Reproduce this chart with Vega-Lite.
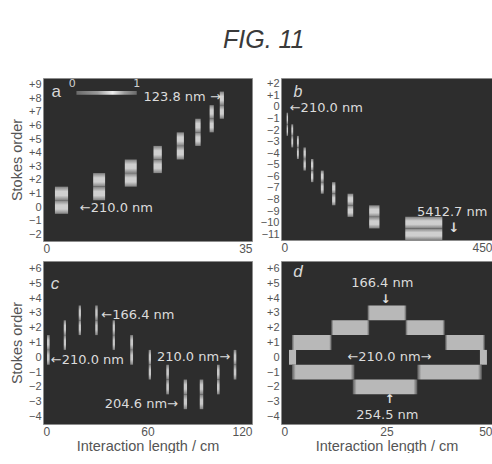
{
  "$schema": "https://vega.github.io/schema/vega-lite/v6.json",
  "background": "white",
  "padding": {"left": 8, "top": 28, "right": 0, "bottom": 0},
  "title": {"text": "FIG. 11", "font": "Liberation Sans", "fontSize": 25, "fontStyle": "italic", "fontWeight": "normal", "color": "#3a3a3a", "offset": 24, "dx": 13, "anchor": "middle"},
  "datasets": {
    "bars": [
      {"p": "a", "x1": 2.0, "x2": 4.2, "y1": -0.5, "y2": 0.5},
      {"p": "a", "x1": 2.0, "x2": 4.2, "y1": 0.5, "y2": 1.5},
      {"p": "a", "x1": 8.4, "x2": 10.4, "y1": 0.5, "y2": 1.5},
      {"p": "a", "x1": 8.4, "x2": 10.4, "y1": 1.5, "y2": 2.5},
      {"p": "a", "x1": 13.7, "x2": 15.7, "y1": 1.5, "y2": 2.5},
      {"p": "a", "x1": 13.7, "x2": 15.7, "y1": 2.5, "y2": 3.5},
      {"p": "a", "x1": 18.5, "x2": 19.9, "y1": 2.5, "y2": 3.5},
      {"p": "a", "x1": 18.5, "x2": 19.9, "y1": 3.5, "y2": 4.5},
      {"p": "a", "x1": 22.4, "x2": 23.6, "y1": 3.5, "y2": 4.5},
      {"p": "a", "x1": 22.4, "x2": 23.6, "y1": 4.5, "y2": 5.5},
      {"p": "a", "x1": 25.5, "x2": 26.4, "y1": 4.5, "y2": 5.5},
      {"p": "a", "x1": 25.5, "x2": 26.4, "y1": 5.5, "y2": 6.5},
      {"p": "a", "x1": 27.9, "x2": 28.6, "y1": 5.5, "y2": 6.5},
      {"p": "a", "x1": 27.9, "x2": 28.6, "y1": 6.5, "y2": 7.5},
      {"p": "a", "x1": 29.6, "x2": 30.3, "y1": 6.5, "y2": 7.5},
      {"p": "a", "x1": 29.6, "x2": 30.3, "y1": 7.5, "y2": 8.5},
      {"p": "b", "x1": 12, "x2": 15, "y1": -1.5, "y2": -0.5},
      {"p": "b", "x1": 12, "x2": 15, "y1": -2.5, "y2": -1.5},
      {"p": "b", "x1": 22, "x2": 26, "y1": -2.5, "y2": -1.5},
      {"p": "b", "x1": 22, "x2": 26, "y1": -3.5, "y2": -2.5},
      {"p": "b", "x1": 34, "x2": 38, "y1": -3.5, "y2": -2.5},
      {"p": "b", "x1": 34, "x2": 38, "y1": -4.5, "y2": -3.5},
      {"p": "b", "x1": 48, "x2": 53, "y1": -4.5, "y2": -3.5},
      {"p": "b", "x1": 48, "x2": 53, "y1": -5.5, "y2": -4.5},
      {"p": "b", "x1": 64, "x2": 69, "y1": -5.5, "y2": -4.5},
      {"p": "b", "x1": 64, "x2": 69, "y1": -6.5, "y2": -5.5},
      {"p": "b", "x1": 85, "x2": 91, "y1": -6.5, "y2": -5.5},
      {"p": "b", "x1": 85, "x2": 91, "y1": -7.5, "y2": -6.5},
      {"p": "b", "x1": 109, "x2": 116, "y1": -7.5, "y2": -6.5},
      {"p": "b", "x1": 109, "x2": 116, "y1": -8.5, "y2": -7.5},
      {"p": "b", "x1": 142, "x2": 154, "y1": -8.5, "y2": -7.5},
      {"p": "b", "x1": 142, "x2": 154, "y1": -9.5, "y2": -8.5},
      {"p": "b", "x1": 188, "x2": 210, "y1": -9.5, "y2": -8.5},
      {"p": "b", "x1": 188, "x2": 210, "y1": -10.5, "y2": -9.5},
      {"p": "b", "x1": 265, "x2": 344, "y1": -10.5, "y2": -9.5},
      {"p": "b", "x1": 265, "x2": 344, "y1": -11.5, "y2": -10.5},
      {"p": "c", "x1": 2.3, "x2": 3.8, "y1": -0.5, "y2": 0.5},
      {"p": "c", "x1": 2.3, "x2": 3.8, "y1": 0.5, "y2": 1.5},
      {"p": "c", "x1": 11.9, "x2": 13.2, "y1": 0.5, "y2": 1.5},
      {"p": "c", "x1": 11.9, "x2": 13.2, "y1": 1.5, "y2": 2.5},
      {"p": "c", "x1": 20.5, "x2": 21.8, "y1": 1.5, "y2": 2.5},
      {"p": "c", "x1": 20.5, "x2": 21.8, "y1": 2.5, "y2": 3.5},
      {"p": "c", "x1": 30.0, "x2": 31.4, "y1": 1.5, "y2": 2.5},
      {"p": "c", "x1": 30.0, "x2": 31.4, "y1": 2.5, "y2": 3.5},
      {"p": "c", "x1": 40.0, "x2": 41.3, "y1": 0.5, "y2": 1.5},
      {"p": "c", "x1": 40.0, "x2": 41.3, "y1": 1.5, "y2": 2.5},
      {"p": "c", "x1": 50.1, "x2": 51.7, "y1": -0.5, "y2": 0.5},
      {"p": "c", "x1": 50.1, "x2": 51.7, "y1": 0.5, "y2": 1.5},
      {"p": "c", "x1": 60.7, "x2": 62.0, "y1": -0.5, "y2": 0.5},
      {"p": "c", "x1": 60.7, "x2": 62.0, "y1": -1.5, "y2": -0.5},
      {"p": "c", "x1": 70.8, "x2": 72.3, "y1": -1.5, "y2": -0.5},
      {"p": "c", "x1": 70.8, "x2": 72.3, "y1": -2.5, "y2": -1.5},
      {"p": "c", "x1": 80.8, "x2": 82.7, "y1": -2.5, "y2": -1.5},
      {"p": "c", "x1": 80.8, "x2": 82.7, "y1": -3.5, "y2": -2.5},
      {"p": "c", "x1": 90.0, "x2": 92.0, "y1": -2.5, "y2": -1.5},
      {"p": "c", "x1": 90.0, "x2": 92.0, "y1": -3.5, "y2": -2.5},
      {"p": "c", "x1": 99.9, "x2": 101.4, "y1": -1.5, "y2": -0.5},
      {"p": "c", "x1": 99.9, "x2": 101.4, "y1": -2.5, "y2": -1.5},
      {"p": "c", "x1": 109.5, "x2": 111.0, "y1": -0.5, "y2": 0.5},
      {"p": "c", "x1": 109.5, "x2": 111.0, "y1": -1.5, "y2": -0.5}
    ],
    "hbars": [
      {"x1": 20.5, "x2": 29.7, "y1": 2.5, "y2": 3.5},
      {"x1": 11.9, "x2": 20.9, "y1": 1.5, "y2": 2.5},
      {"x1": 29.5, "x2": 38.8, "y1": 1.5, "y2": 2.5},
      {"x1": 2.6, "x2": 12.0, "y1": 0.5, "y2": 1.5},
      {"x1": 38.9, "x2": 48.3, "y1": 0.5, "y2": 1.5},
      {"x1": 1.9, "x2": 3.6, "y1": -0.5, "y2": 0.5},
      {"x1": 47.1, "x2": 48.8, "y1": -0.5, "y2": 0.5},
      {"x1": 2.6, "x2": 17.4, "y1": -1.5, "y2": -0.5},
      {"x1": 32.3, "x2": 47.6, "y1": -1.5, "y2": -0.5},
      {"x1": 17.0, "x2": 32.3, "y1": -2.5, "y2": -1.5}
    ],
    "cbar": [{"x1": 5.6, "x2": 15.7, "y1": 8.27, "y2": 8.55}],
    "small": [
      {"p": "a", "x1": 4.9, "y1": 9.05, "t": "0"},
      {"p": "a", "x1": 15.7, "y1": 9.05, "t": "1"},
      {"p": "b", "x1": 369, "y1": -10.45, "t": "↓"},
      {"p": "d", "x1": 24.8, "y1": 3.95, "t": "↓"},
      {"p": "d", "x1": 25.7, "y1": -2.8, "t": "↑"}
    ],
    "letters": [
      {"p": "a", "x1": 2.2, "y1": 8.5, "t": "a"},
      {"p": "b", "x1": 36, "y1": 1.3, "t": "b"},
      {"p": "c", "x1": 6.9, "y1": 4.95, "t": "c"},
      {"p": "d", "x1": 4.0, "y1": 5.75, "t": "d"}
    ],
    "notes": [
      {"p": "a", "x1": 12.3, "y1": -0.1, "t": "←210.0 nm"},
      {"p": "a", "x1": 23.3, "y1": 8.1, "t": "123.8 nm →"},
      {"p": "b", "x1": 96.6, "y1": -0.05, "t": "←210.0 nm"},
      {"p": "b", "x1": 365, "y1": -9.1, "t": "5412.7 nm"},
      {"p": "c", "x1": 54.5, "y1": 2.85, "t": "←166.4 nm"},
      {"p": "c", "x1": 25.5, "y1": -0.2, "t": "←210.0 nm"},
      {"p": "c", "x1": 86.4, "y1": 0.0, "t": "210.0 nm→"},
      {"p": "c", "x1": 56.5, "y1": -3.15, "t": "204.6 nm→"},
      {"p": "d", "x1": 24.0, "y1": 5.0, "t": "166.4 nm"},
      {"p": "d", "x1": 25.7, "y1": 0.0, "t": "←210.0 nm→"},
      {"p": "d", "x1": 25.2, "y1": -3.92, "t": "254.5 nm"}
    ]
  },
  "config": {
    "view": {"fill": "#2d2d2d", "stroke": "#8c8c8c", "strokeWidth": 1},
    "axis": {"domain": false, "ticks": false, "grid": false, "labelColor": "#555", "labelFont": "Liberation Sans", "labelFontSize": 12, "labelPadding": 2, "labelOverlap": false, "titleColor": "#555", "titleFont": "Liberation Sans", "titleFontSize": 14.5, "titleFontWeight": "normal"},
    "axisX": {"labelFlush": true, "titlePadding": 2},
    "axisY": {"titlePadding": 4, "labelFontSize": 11, "labelPadding": 2}
  },
  "columns": 2,
  "spacing": {"row": 5, "column": 6},
  "concat": [
    {
      "width": 209, "height": 163,
      "encoding": {
        "x": {"field": "x1", "type": "quantitative", "scale": {"domain": [0, 35], "nice": false, "zero": false}, "axis": {"values": [0, 35], "title": null}},
        "y": {"field": "y1", "type": "quantitative", "scale": {"domain": [-2.5, 9.5], "nice": false, "zero": false}, "axis": {"values": [-2, -1, 0, 1, 2, 3, 4, 5, 6, 7, 8, 9], "title": "Stokes order", "labelExpr": "datum.value > 0 ? '+' + datum.label : datum.label"}}
      },
      "layer": [
        {"data": {"name": "bars"}, "transform": [{"filter": "datum.p == 'a'"}],
         "mark": {"type": "rect", "fill": {"gradient": "linear", "x1": 0, "y1": 0, "x2": 0, "y2": 1, "stops": [{"offset": 0, "color": "#808080"}, {"offset": 0.35, "color": "#cfcfcf"}, {"offset": 0.65, "color": "#cfcfcf"}, {"offset": 1, "color": "#808080"}]}},
         "encoding": {"x2": {"field": "x2"}, "y2": {"field": "y2"}}},
        {"data": {"name": "cbar"},
         "mark": {"type": "rect", "fill": {"gradient": "linear", "stops": [{"offset": 0, "color": "#6a6a6a"}, {"offset": 0.35, "color": "#9a9a9a"}, {"offset": 0.6, "color": "#eeeeee"}, {"offset": 0.8, "color": "#9a9a9a"}, {"offset": 1, "color": "#6a6a6a"}]}},
         "encoding": {"x2": {"field": "x2"}, "y2": {"field": "y2"}}},
        {"data": {"name": "small"}, "transform": [{"filter": "datum.p == 'a'"}],
         "mark": {"type": "text", "font": "DejaVu Sans", "fontSize": 11, "color": "#d0d0d0", "baseline": "middle"},
         "encoding": {"text": {"field": "t"}}},
        {"data": {"name": "notes"}, "transform": [{"filter": "datum.p == 'a'"}],
         "mark": {"type": "text", "font": "DejaVu Sans", "fontSize": 13, "color": "#dcdcdc", "baseline": "middle"},
         "encoding": {"text": {"field": "t"}}},
        {"data": {"name": "letters"}, "transform": [{"filter": "datum.p == 'a'"}],
         "mark": {"type": "text", "font": "Liberation Sans", "fontSize": 17, "color": "#d8d8d8", "baseline": "middle"},
         "encoding": {"text": {"field": "t"}}}
      ]
    },
    {
      "width": 211, "height": 162,
      "encoding": {
        "x": {"field": "x1", "type": "quantitative", "scale": {"domain": [0, 450], "nice": false, "zero": false}, "axis": {"values": [0, 450], "title": null}},
        "y": {"field": "y1", "type": "quantitative", "scale": {"domain": [-11.5, 2.5], "nice": false, "zero": false}, "axis": {"values": [-11, -10, -9, -8, -7, -6, -5, -4, -3, -2, -1, 0, 1, 2], "title": null, "labelExpr": "datum.value > 0 ? '+' + datum.label : datum.label"}}
      },
      "layer": [
        {"data": {"name": "bars"}, "transform": [{"filter": "datum.p == 'b'"}],
         "mark": {"type": "rect", "fill": {"gradient": "linear", "x1": 0, "y1": 0, "x2": 0, "y2": 1, "stops": [{"offset": 0, "color": "#808080"}, {"offset": 0.35, "color": "#cfcfcf"}, {"offset": 0.65, "color": "#cfcfcf"}, {"offset": 1, "color": "#808080"}]}},
         "encoding": {"x2": {"field": "x2"}, "y2": {"field": "y2"}}},
        {"data": {"name": "small"}, "transform": [{"filter": "datum.p == 'b'"}],
         "mark": {"type": "text", "font": "DejaVu Sans", "fontSize": 13, "fontWeight": "bold", "color": "#e0e0e0", "baseline": "middle"},
         "encoding": {"text": {"field": "t"}}},
        {"data": {"name": "notes"}, "transform": [{"filter": "datum.p == 'b'"}],
         "mark": {"type": "text", "font": "DejaVu Sans", "fontSize": 13, "color": "#dcdcdc", "baseline": "middle"},
         "encoding": {"text": {"field": "t"}}},
        {"data": {"name": "letters"}, "transform": [{"filter": "datum.p == 'b'"}],
         "mark": {"type": "text", "font": "Liberation Sans", "fontSize": 16, "fontStyle": "italic", "color": "#d8d8d8", "baseline": "middle"},
         "encoding": {"text": {"field": "t"}}}
      ]
    },
    {
      "width": 209, "height": 163,
      "encoding": {
        "x": {"field": "x1", "type": "quantitative", "scale": {"domain": [0, 120], "nice": false, "zero": false}, "axis": {"values": [0, 60, 120], "title": "Interaction length / cm"}},
        "y": {"field": "y1", "type": "quantitative", "scale": {"domain": [-4.5, 6.5], "nice": false, "zero": false}, "axis": {"values": [-4, -3, -2, -1, 0, 1, 2, 3, 4, 5, 6], "title": "Stokes order", "labelExpr": "datum.value > 0 ? '+' + datum.label : datum.label"}}
      },
      "layer": [
        {"data": {"name": "bars"}, "transform": [{"filter": "datum.p == 'c'"}],
         "mark": {"type": "rect", "fill": {"gradient": "linear", "x1": 0, "y1": 0, "x2": 0, "y2": 1, "stops": [{"offset": 0, "color": "#808080"}, {"offset": 0.35, "color": "#c8c8c8"}, {"offset": 0.65, "color": "#c8c8c8"}, {"offset": 1, "color": "#808080"}]}},
         "encoding": {"x2": {"field": "x2"}, "y2": {"field": "y2"}}},
        {"data": {"name": "notes"}, "transform": [{"filter": "datum.p == 'c'"}],
         "mark": {"type": "text", "font": "DejaVu Sans", "fontSize": 13, "color": "#dcdcdc", "baseline": "middle"},
         "encoding": {"text": {"field": "t"}}},
        {"data": {"name": "letters"}, "transform": [{"filter": "datum.p == 'c'"}],
         "mark": {"type": "text", "font": "Liberation Sans", "fontSize": 17, "fontStyle": "italic", "color": "#d8d8d8", "baseline": "middle"},
         "encoding": {"text": {"field": "t"}}}
      ]
    },
    {
      "width": 211, "height": 163,
      "encoding": {
        "x": {"field": "x1", "type": "quantitative", "scale": {"domain": [0, 50], "nice": false, "zero": false}, "axis": {"values": [0, 25, 50], "title": "Interaction length / cm"}},
        "y": {"field": "y1", "type": "quantitative", "scale": {"domain": [-4.5, 6.5], "nice": false, "zero": false}, "axis": {"values": [-4, -3, -2, -1, 0, 1, 2, 3, 4, 5, 6], "title": null, "labelExpr": "datum.value > 0 ? '+' + datum.label : datum.label"}}
      },
      "layer": [
        {"data": {"name": "hbars"},
         "mark": {"type": "rect", "fill": {"gradient": "linear", "stops": [{"offset": 0, "color": "#5a5a5a"}, {"offset": 0.06, "color": "#b8b8b8"}, {"offset": 0.94, "color": "#b8b8b8"}, {"offset": 1, "color": "#5a5a5a"}]}},
         "encoding": {"x2": {"field": "x2"}, "y2": {"field": "y2"}}},
        {"data": {"name": "small"}, "transform": [{"filter": "datum.p == 'd'"}],
         "mark": {"type": "text", "font": "DejaVu Sans", "fontSize": 12, "fontWeight": "bold", "color": "#e0e0e0", "baseline": "middle"},
         "encoding": {"text": {"field": "t"}}},
        {"data": {"name": "notes"}, "transform": [{"filter": "datum.p == 'd'"}],
         "mark": {"type": "text", "font": "DejaVu Sans", "fontSize": 13, "color": "#dcdcdc", "baseline": "middle"},
         "encoding": {"text": {"field": "t"}}},
        {"data": {"name": "letters"}, "transform": [{"filter": "datum.p == 'd'"}],
         "mark": {"type": "text", "font": "Liberation Sans", "fontSize": 17, "fontStyle": "italic", "color": "#d8d8d8", "baseline": "middle"},
         "encoding": {"text": {"field": "t"}}}
      ]
    }
  ]
}
